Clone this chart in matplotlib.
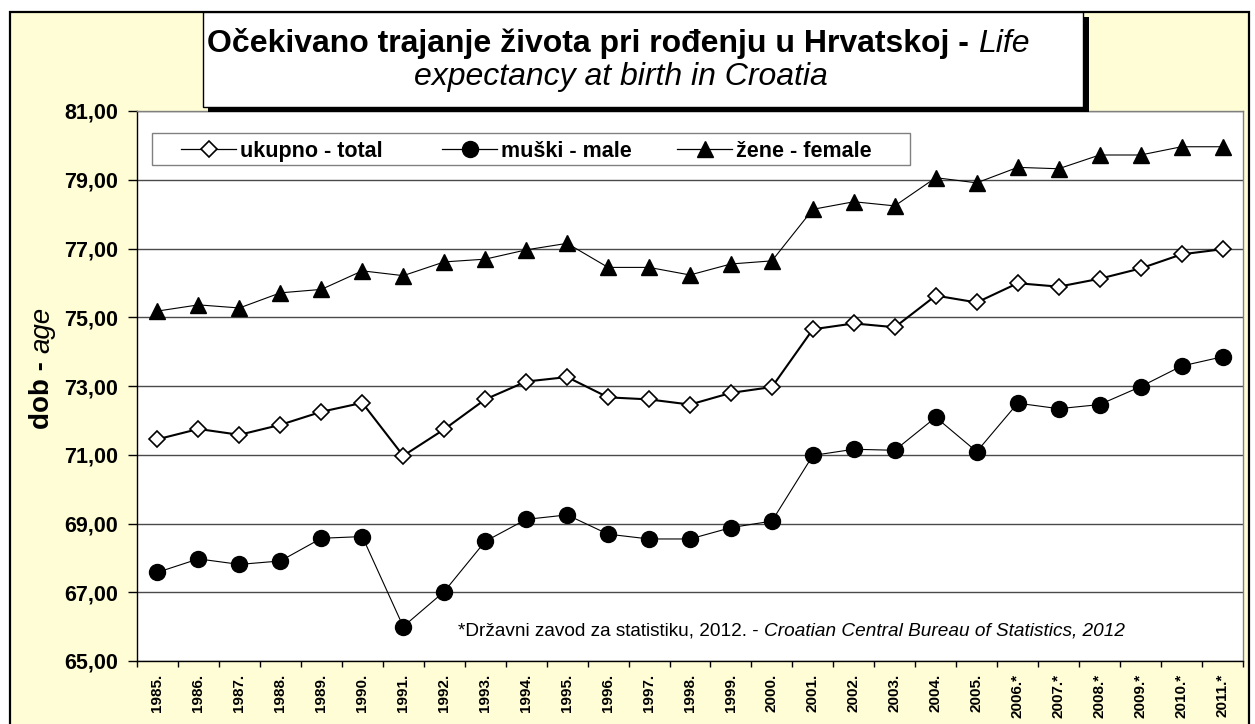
import numpy as np
import matplotlib
matplotlib.use('Agg')
import matplotlib.pyplot as plt
from matplotlib.patches import Rectangle
from matplotlib.lines import Line2D

plt.rcParams['font.family'] = ['Liberation Sans', 'DejaVu Sans']

# ---------------- data ----------------
year_labels = ['1985.', '1986.', '1987.', '1988.', '1989.', '1990.', '1991.', '1992.',
               '1993.', '1994.', '1995.', '1996.', '1997.', '1998.', '1999.', '2000.',
               '2001.', '2002.', '2003.', '2004.', '2005.', '2006.*', '2007.*', '2008.*',
               '2009.*', '2010.*', '2011.*']
total = [71.45, 71.75, 71.58, 71.87, 72.25, 72.51, 70.97, 71.74, 72.61, 73.13, 73.26,
         72.67, 72.61, 72.46, 72.80, 72.97, 74.65, 74.82, 74.71, 75.63, 75.43, 75.99,
         75.89, 76.12, 76.42, 76.83, 76.98]
male = [67.58, 67.97, 67.81, 67.91, 68.57, 68.62, 66.00, 67.02, 68.48, 69.12, 69.25,
        68.69, 68.55, 68.55, 68.88, 69.07, 70.98, 71.16, 71.13, 72.09, 71.09, 72.50,
        72.34, 72.46, 72.98, 73.58, 73.85]
female = [75.18, 75.36, 75.27, 75.71, 75.81, 76.35, 76.21, 76.61, 76.69, 76.96, 77.15,
          76.45, 76.45, 76.23, 76.55, 76.64, 78.14, 78.36, 78.24, 79.06, 78.91, 79.36,
          79.32, 79.72, 79.72, 79.96, 79.96]
series_names = ['ukupno - total', 'muški - male', 'žene - female']
y_ticks = [65, 67, 69, 71, 73, 75, 77, 79, 81]

# ---------------- figure ----------------
W, H, DPI = 1255, 724, 100
fig = plt.figure(figsize=(W / DPI, H / DPI), dpi=DPI, facecolor='white')


def fx(x):
    return x / W


def fy(y):
    return 1 - y / H


CREAM = '#FFFDD6'
frame = Rectangle((fx(10), fy(728)), (1249 - 10) / W, (728 - 12) / H,
                  transform=fig.transFigure, facecolor=CREAM, edgecolor='black',
                  linewidth=1.6, zorder=-5)
fig.add_artist(frame)

ax = fig.add_axes([fx(137), fy(661), (1243 - 137) / W, (661 - 111) / H])
ax.set_facecolor('white')
ax.set_zorder(1)

styles = [dict(lw=1.5, marker='D', ms=7.8, mfc='white', mec='black', mew=1.2),
          dict(lw=0.8, marker='o', ms=11.5, mfc='black', mec='black'),
          dict(lw=0.8, marker='^', ms=11.5, mfc='black', mec='black')]

x = np.arange(len(year_labels))
for vals, st, z in zip([total, male, female], styles, [4, 3, 3]):
    ax.plot(x, vals, '-', color='black', zorder=z, **st)

ax.set_xlim(-0.5, len(year_labels) - 0.5)
ax.set_ylim(65, 81)
ax.set_yticks(y_ticks)
ax.set_yticklabels([f"{v:.2f}".replace('.', ',') for v in y_ticks],
                   fontsize=15.5, fontweight='bold')
ax.yaxis.grid(True, color='#4a4a4a', lw=1.0)
ax.set_axisbelow(True)

ax.set_xticks(np.arange(-0.5, len(year_labels), 1))
ax.set_xticklabels([])
ax.set_xticks(x, minor=True)
ax.set_xticklabels(year_labels, minor=True, rotation=90, fontsize=11, fontweight='bold')
ax.tick_params(axis='x', which='major', length=4, direction='out', color='black', width=1)
ax.tick_params(axis='x', which='minor', length=0, pad=9)
ax.tick_params(axis='y', length=6.5, direction='out', width=1, pad=7)

for s in ['left', 'bottom']:
    ax.spines[s].set_color('black')
    ax.spines[s].set_linewidth(1.0)
for s in ['top', 'right']:
    ax.spines[s].set_color('#808080')
    ax.spines[s].set_linewidth(1.0)

# ---------------- legend (drawn as an Excel-style box) ----------------
leg_box = Rectangle((fx(152), fy(165)), (910 - 152) / W, (165 - 133) / H,
                    transform=fig.transFigure, facecolor='white', edgecolor='#808080',
                    linewidth=1.0, zorder=8)
fig.add_artist(leg_box)
leg_y = 149
handle_x = [181, 442, 677]
for name, st, hx in zip(series_names, styles, handle_x):
    st2 = dict(st)
    st2['lw'] = 0.9
    ln = Line2D([fx(hx), fx(hx + 27.5), fx(hx + 55)], [fy(leg_y)] * 3,
                transform=fig.transFigure, color='black', markevery=[1], zorder=9, **st2)
    fig.add_artist(ln)
    fig.text(fx(hx + 59), fy(leg_y), name, ha='left', va='center_baseline',
             fontsize=15.5, fontweight='bold', zorder=9)

# ---------------- title box ----------------
shadow = Rectangle((fx(208), fy(112)), (1089 - 208) / W, (112 - 17) / H,
                   transform=fig.transFigure, facecolor='black', edgecolor='black',
                   linewidth=0, zorder=5)
fig.add_artist(shadow)
tbox = Rectangle((fx(203), fy(107)), (1083 - 203) / W, (107 - 12) / H,
                 transform=fig.transFigure, facecolor='white', edgecolor='black',
                 linewidth=1.0, zorder=6)
fig.add_artist(tbox)

renderer = fig.canvas.get_renderer()


def mixed_text(parts, cx, cy, rotation=0, size=12, zorder=7):
    """parts: list of (string, fontdict). cx, cy: image-pixel anchor (baseline centre)."""
    objs = []
    for s, kw in parts:
        t = fig.text(0, 0, s, rotation=rotation, rotation_mode='anchor', ha='left',
                     va='baseline', fontsize=size, zorder=zorder, **kw)
        objs.append(t)
    lens = []
    for t in objs:
        bb = t.get_window_extent(renderer)
        lens.append(bb.height if rotation == 90 else bb.width)
    total_len = sum(lens)
    if rotation == 90:
        pos = (H - cy) - total_len / 2
        for t, L in zip(objs, lens):
            t.set_position((fx(cx), pos / H))
            pos += L
    else:
        pos = cx - total_len / 2
        for t, L in zip(objs, lens):
            t.set_position((fx(pos), fy(cy)))
            pos += L
    return objs


mixed_text([('Očekivano trajanje života pri rođenju u Hrvatskoj - ', {'fontweight': 'bold'}),
            ('Life', {'fontstyle': 'italic'})], 618, 52, size=23)
mixed_text([('expectancy at birth in Croatia', {'fontstyle': 'italic'})], 621, 85, size=23)

# y axis label
mixed_text([('dob - ', {'fontweight': 'bold'}), ('age', {'fontstyle': 'italic'})],
           49, 368, rotation=90, size=20)

# source note (left aligned)
parts = [('*Državni zavod za statistiku, 2012. - ', {}),
         ('Croatian Central Bureau of Statistics, 2012', {'fontstyle': 'italic'})]
px = 458
for s, kw in parts:
    t = fig.text(fx(px), fy(635), s, ha='left', va='baseline', fontsize=13.7, zorder=7, **kw)
    px += t.get_window_extent(renderer).width

fig.savefig('out.png', dpi=DPI, facecolor='white')
